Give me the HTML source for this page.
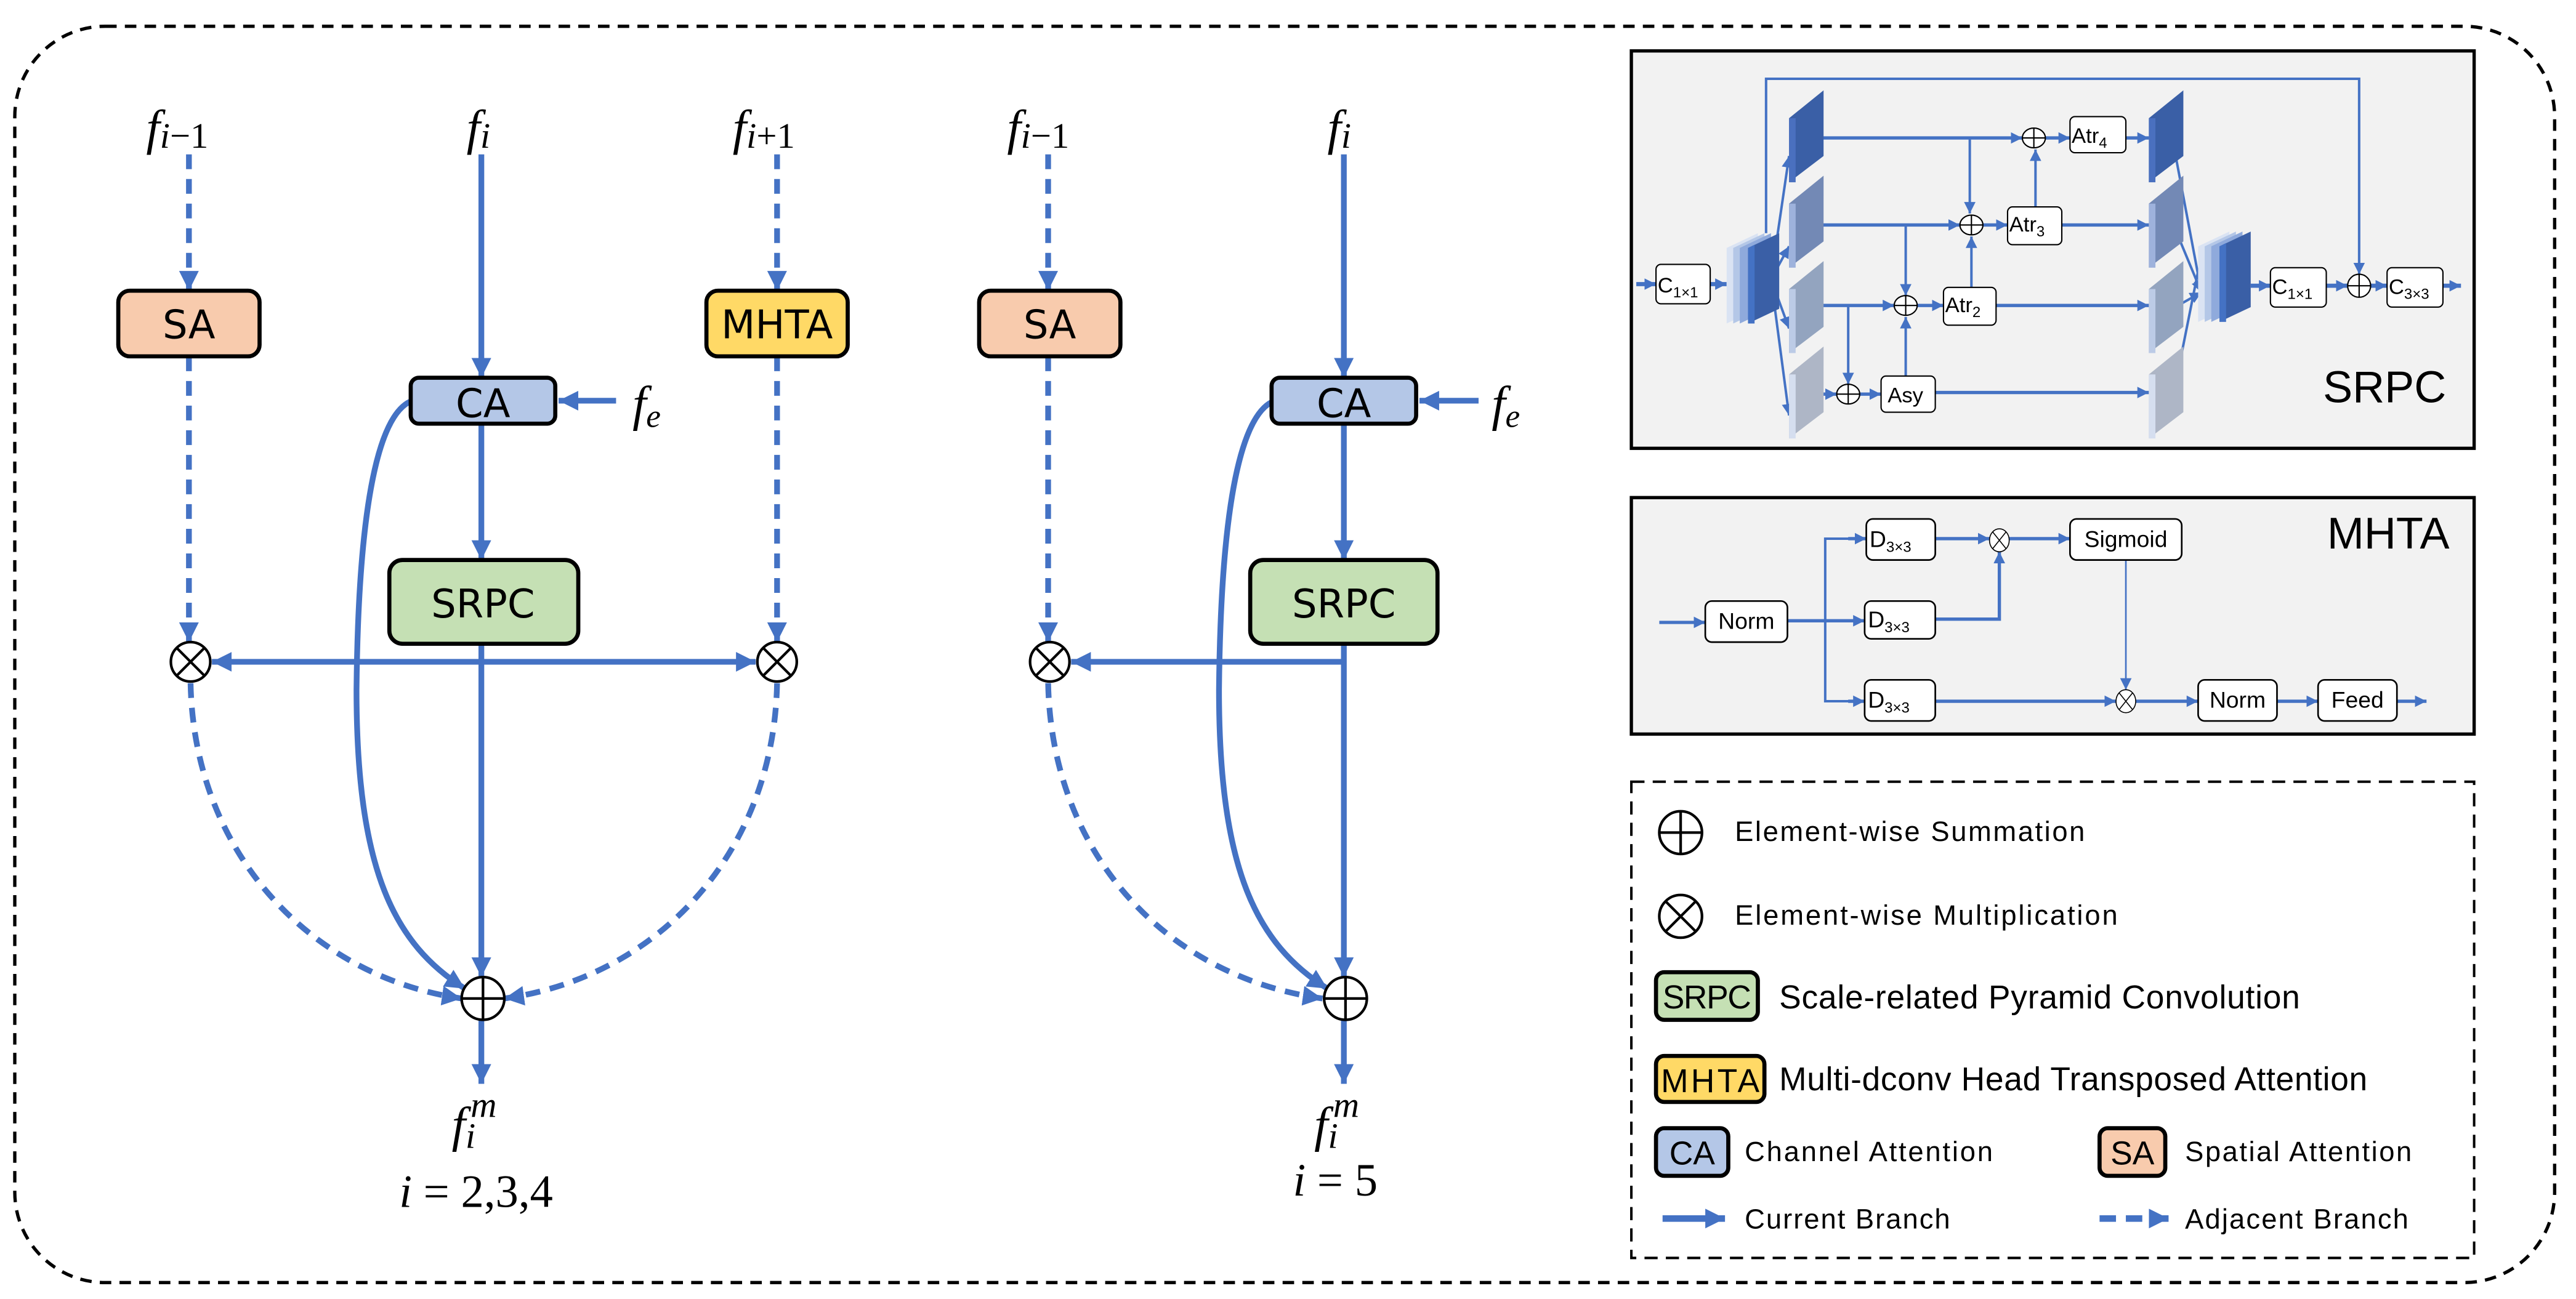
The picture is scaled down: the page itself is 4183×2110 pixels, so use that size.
<!DOCTYPE html>
<html><head><meta charset="utf-8"><style>
html,body{margin:0;padding:0;background:#fff;}
svg{display:block;}
.b{font-family:"DejaVu Sans","Liberation Sans",sans-serif;}
.m{font-family:"Liberation Serif","DejaVu Serif",serif;font-style:italic;}
.c{font-family:"Liberation Sans Narrow","Liberation Sans",sans-serif;}
</style></head><body>
<svg width="4183" height="2110" viewBox="0 0 1568 791" preserveAspectRatio="none" xmlns="http://www.w3.org/2000/svg">
<defs>
<marker id="A" markerUnits="userSpaceOnUse" markerWidth="14" markerHeight="14" refX="12" refY="6" orient="auto"><path d="M0,0 L12,6 L0,12 z" fill="#4472C4"/></marker>
<marker id="As" markerUnits="userSpaceOnUse" markerWidth="8" markerHeight="8" refX="7" refY="3.5" orient="auto"><path d="M0,0 L7,3.5 L0,7 z" fill="#4472C4"/></marker>
</defs>
<rect x="0" y="0" width="1568" height="791" fill="#fff"/>
<rect x="9" y="16" width="1546" height="765" rx="55" ry="55" fill="none" stroke="#000" stroke-width="2" stroke-dasharray="7 5"/>

<!-- ===== LEFT DIAGRAM ===== -->
<g fill="none" stroke="#4472C4" stroke-width="3.5">
<line x1="115" y1="94" x2="115" y2="177" stroke-dasharray="9 6" marker-end="url(#A)"/>
<line x1="293" y1="94" x2="293" y2="230" marker-end="url(#A)"/>
<line x1="473" y1="94" x2="473" y2="177" stroke-dasharray="9 6" marker-end="url(#A)"/>
<line x1="115" y1="217" x2="115" y2="391" stroke-dasharray="9 6" marker-end="url(#A)"/>
<line x1="473" y1="217" x2="473" y2="391" stroke-dasharray="9 6" marker-end="url(#A)"/>
<line x1="375" y1="244" x2="340" y2="244" marker-end="url(#A)"/>
<line x1="293" y1="258" x2="293" y2="341" marker-end="url(#A)"/>
<line x1="293" y1="392" x2="293" y2="595" marker-end="url(#A)"/>
<line x1="293" y1="403" x2="129" y2="403" marker-end="url(#A)"/>
<line x1="293" y1="403" x2="460" y2="403" marker-end="url(#A)"/>
<line x1="293" y1="621" x2="293" y2="660" marker-end="url(#A)"/>
<path d="M116,416 C118,520 190,595 281,608" stroke-dasharray="9 6" marker-end="url(#A)"/>
<path d="M473,416 C471,520 400,595 307,608" stroke-dasharray="9 6" marker-end="url(#A)"/>
<path d="M251,244 C228,252 218,320 217,420 C217,530 240,575 283,602" marker-end="url(#A)"/>
</g>
<g stroke="#000" stroke-width="2.5">
<rect x="72" y="177" width="86" height="40" rx="7" fill="#F8CBAD"/>
<rect x="430" y="177" width="86" height="40" rx="7" fill="#FFD966"/>
<rect x="250" y="230" width="88" height="28" rx="5" fill="#B4C7E7"/>
<rect x="237" y="341" width="115" height="51" rx="8" fill="#C5E0B4"/>
</g>
<g class="b" font-size="24" text-anchor="middle" fill="#000">
<text x="115" y="206">SA</text><text x="473" y="206">MHTA</text>
<text x="294" y="254">CA</text><text x="294" y="376">SRPC</text>
</g>
<g stroke="#000" stroke-width="1.6" fill="#fff">
<ellipse cx="116" cy="403" rx="12" ry="12"/><path d="M108,395 L124,411 M124,395 L108,411"/>
<ellipse cx="473" cy="403" rx="12" ry="12"/><path d="M465,395 L481,411 M481,395 L465,411"/>
<ellipse cx="294" cy="608" rx="13" ry="13"/><path d="M281,608 H307 M294,595 V621"/>
</g>
<g class="m" font-size="30" fill="#000">
<text x="89" y="88">f<tspan font-size="22" dy="2">i</tspan><tspan font-style="normal" font-size="22">−1</tspan></text>
<text x="284" y="88">f<tspan font-size="22" dy="2">i</tspan></text>
<text x="446" y="88">f<tspan font-size="22" dy="2">i</tspan><tspan font-style="normal" font-size="22">+1</tspan></text>
<text x="385" y="256">f<tspan font-size="20" dy="4">e</tspan></text>
<text x="275" y="695">f<tspan font-size="22" dy="4">i</tspan><tspan font-size="22" dx="-3" dy="-19">m</tspan></text>
<text x="243" y="735" font-size="28">i <tspan font-style="normal">= 2,3,4</tspan></text>
</g>

<!-- ===== MIDDLE DIAGRAM ===== -->
<g fill="none" stroke="#4472C4" stroke-width="3.5">
<line x1="638" y1="94" x2="638" y2="177" stroke-dasharray="9 6" marker-end="url(#A)"/>
<line x1="818" y1="94" x2="818" y2="230" marker-end="url(#A)"/>
<line x1="638" y1="217" x2="638" y2="391" stroke-dasharray="9 6" marker-end="url(#A)"/>
<line x1="900" y1="244" x2="864" y2="244" marker-end="url(#A)"/>
<line x1="818" y1="258" x2="818" y2="341" marker-end="url(#A)"/>
<line x1="818" y1="392" x2="818" y2="595" marker-end="url(#A)"/>
<line x1="818" y1="403" x2="652" y2="403" marker-end="url(#A)"/>
<line x1="818" y1="621" x2="818" y2="660" marker-end="url(#A)"/>
<path d="M638,416 C640,520 710,595 805,608" stroke-dasharray="9 6" marker-end="url(#A)"/>
<path d="M776,244 C753,252 743,320 742,420 C742,530 765,575 808,602" marker-end="url(#A)"/>
</g>
<g stroke="#000" stroke-width="2.5">
<rect x="596" y="177" width="86" height="40" rx="7" fill="#F8CBAD"/>
<rect x="774" y="230" width="88" height="28" rx="5" fill="#B4C7E7"/>
<rect x="761" y="341" width="114" height="51" rx="8" fill="#C5E0B4"/>
</g>
<g class="b" font-size="24" text-anchor="middle" fill="#000">
<text x="639" y="206">SA</text><text x="818" y="254">CA</text><text x="818" y="376">SRPC</text>
</g>
<g stroke="#000" stroke-width="1.6" fill="#fff">
<ellipse cx="639" cy="403" rx="12" ry="12"/><path d="M631,395 L647,411 M647,395 L631,411"/>
<ellipse cx="819" cy="608" rx="13" ry="13"/><path d="M806,608 H832 M819,595 V621"/>
</g>
<g class="m" font-size="30" fill="#000">
<text x="613" y="88">f<tspan font-size="22" dy="2">i</tspan><tspan font-style="normal" font-size="22">−1</tspan></text>
<text x="808" y="88">f<tspan font-size="22" dy="2">i</tspan></text>
<text x="908" y="256">f<tspan font-size="20" dy="4">e</tspan></text>
<text x="800" y="695">f<tspan font-size="22" dy="4">i</tspan><tspan font-size="22" dx="-3" dy="-19">m</tspan></text>
<text x="787" y="728" font-size="28">i <tspan font-style="normal">= 5</tspan></text>
</g>

<!-- ===== SRPC PANEL ===== -->
<rect x="993" y="31" width="513" height="242" fill="#F2F2F2" stroke="#000" stroke-width="2"/>
<g fill="none" stroke="#4472C4" stroke-width="1.5">
<polyline points="1075,142 1075,48 1436,48 1436,167" marker-end="url(#As)"/>
<line x1="996" y1="173" x2="1008" y2="173" stroke-width="2.5" marker-end="url(#As)"/>
<line x1="1041" y1="173" x2="1051" y2="173" stroke-width="2.5" marker-end="url(#As)"/>
<line x1="1078" y1="170" x2="1089" y2="95" marker-end="url(#As)"/>
<line x1="1078" y1="170" x2="1089" y2="150" marker-end="url(#As)"/>
<line x1="1078" y1="170" x2="1089" y2="200" marker-end="url(#As)"/>
<line x1="1078" y1="170" x2="1089" y2="253" marker-end="url(#As)"/>
<line x1="1104" y1="84" x2="1231" y2="84" stroke-width="2" marker-end="url(#As)"/>
<line x1="1245" y1="84" x2="1260" y2="84" stroke-width="2" marker-end="url(#As)"/>
<line x1="1294" y1="84" x2="1308" y2="84" stroke-width="2" marker-end="url(#As)"/>
<line x1="1199" y1="84" x2="1199" y2="130" marker-end="url(#As)"/>
<line x1="1239" y1="126" x2="1239" y2="91" marker-end="url(#As)"/>
<line x1="1104" y1="137" x2="1193" y2="137" stroke-width="2" marker-end="url(#As)"/>
<line x1="1207" y1="137" x2="1222" y2="137" stroke-width="2" marker-end="url(#As)"/>
<line x1="1255" y1="137" x2="1308" y2="137" stroke-width="2" marker-end="url(#As)"/>
<line x1="1160" y1="137" x2="1160" y2="180" marker-end="url(#As)"/>
<line x1="1200" y1="175" x2="1200" y2="144" marker-end="url(#As)"/>
<line x1="1104" y1="186" x2="1153" y2="186" stroke-width="2" marker-end="url(#As)"/>
<line x1="1167" y1="186" x2="1183" y2="186" stroke-width="2" marker-end="url(#As)"/>
<line x1="1215" y1="186" x2="1308" y2="186" stroke-width="2" marker-end="url(#As)"/>
<line x1="1125" y1="186" x2="1125" y2="234" marker-end="url(#As)"/>
<line x1="1160" y1="229" x2="1160" y2="193" marker-end="url(#As)"/>
<line x1="1104" y1="240" x2="1118" y2="240" stroke-width="2" marker-end="url(#As)"/>
<line x1="1132" y1="240" x2="1145" y2="240" stroke-width="2" marker-end="url(#As)"/>
<line x1="1178" y1="239" x2="1308" y2="239" stroke-width="2" marker-end="url(#As)"/>
<line x1="1323" y1="88" x2="1340" y2="178" marker-end="url(#As)"/>
<line x1="1323" y1="137" x2="1340" y2="178" marker-end="url(#As)"/>
<line x1="1324" y1="187" x2="1340" y2="178" marker-end="url(#As)"/>
<line x1="1323" y1="240" x2="1338" y2="165"/>
<line x1="1370" y1="174" x2="1382" y2="174" stroke-width="2.5" marker-end="url(#As)"/>
<line x1="1416" y1="174" x2="1429" y2="174" stroke-width="2.5" marker-end="url(#As)"/>
<line x1="1443" y1="174" x2="1453" y2="174" stroke-width="2.5" marker-end="url(#As)"/>
<line x1="1487" y1="174" x2="1498" y2="174" stroke-width="2.5" marker-end="url(#As)"/>
</g>
<g>
<polygon points="1051,151 1070,142 1070,188 1051,197" fill="#DAE3F3"/>
<polygon points="1055,151 1074,142 1074,188 1055,197" fill="#B4C7E7"/>
<polygon points="1059,151 1078,142 1078,188 1059,197" fill="#8FAADC"/>
<polygon points="1064,151 1083,142 1083,188 1064,197" fill="#3A5FA6"/>
<polygon points="1064,151 1068,149 1068,197 1064,197" fill="#4472C4"/>
<polygon points="1338,150 1357,141 1357,187 1338,196" fill="#DAE3F3"/>
<polygon points="1342,150 1361,141 1361,187 1342,196" fill="#B4C7E7"/>
<polygon points="1346,150 1365,141 1365,187 1346,196" fill="#8FAADC"/>
<polygon points="1351,150 1370,141 1370,187 1351,196" fill="#3A5FA6"/>
<polygon points="1351,150 1355,148 1355,196 1351,196" fill="#4472C4"/>
<polygon points="1089,72 1110,55 1110,95 1089,111" fill="#3A5FA6"/>
<rect x="1089" y="72" width="4" height="39" fill="#4A70BF"/>
<polygon points="1089,124 1110,107 1110,147 1089,163" fill="#7389B5"/>
<rect x="1089" y="124" width="4" height="39" fill="#9EB2DC"/>
<polygon points="1089,176 1110,159 1110,199 1089,215" fill="#93A4BF"/>
<rect x="1089" y="176" width="4" height="39" fill="#BCCBE6"/>
<polygon points="1089,228 1110,211 1110,251 1089,267" fill="#AEB6C6"/>
<rect x="1089" y="228" width="4" height="39" fill="#D5DEEF"/>
<polygon points="1308,72 1329,55 1329,95 1308,111" fill="#3A5FA6"/>
<rect x="1308" y="72" width="4" height="39" fill="#4A70BF"/>
<polygon points="1308,124 1329,107 1329,147 1308,163" fill="#7389B5"/>
<rect x="1308" y="124" width="4" height="39" fill="#9EB2DC"/>
<polygon points="1308,176 1329,159 1329,199 1308,215" fill="#93A4BF"/>
<rect x="1308" y="176" width="4" height="39" fill="#BCCBE6"/>
<polygon points="1308,228 1329,211 1329,251 1308,267" fill="#AEB6C6"/>
<rect x="1308" y="228" width="4" height="39" fill="#D5DEEF"/>
</g>
<g fill="#fff" stroke="#000" stroke-width="0.8">
<rect x="1008" y="161" width="33" height="24" rx="3"/>
<rect x="1260" y="71" width="34" height="22" rx="3"/>
<rect x="1222" y="126" width="33" height="23" rx="3"/>
<rect x="1183" y="175" width="32" height="23" rx="3"/>
<rect x="1145" y="229" width="33" height="22" rx="3"/>
<rect x="1382" y="163" width="34" height="24" rx="3"/>
<rect x="1453" y="163" width="34" height="24" rx="3"/>
<ellipse cx="1238" cy="84" rx="7" ry="6"/><path d="M1231,84 H1245 M1238,78 V90"/>
<ellipse cx="1200" cy="137" rx="7" ry="6"/><path d="M1193,137 H1207 M1200,131 V143"/>
<ellipse cx="1160" cy="186" rx="7" ry="6"/><path d="M1153,186 H1167 M1160,180 V192"/>
<ellipse cx="1125" cy="240" rx="7" ry="6"/><path d="M1118,240 H1132 M1125,234 V246"/>
<ellipse cx="1436" cy="174" rx="7" ry="7"/><path d="M1429,174 H1443 M1436,167 V181"/>
</g>
<g class="c" font-size="13" fill="#000">
<text x="1009" y="178">C<tspan font-size="9" dy="3">1×1</tspan></text>
<text x="1261" y="87">Atr<tspan font-size="9" dy="3">4</tspan></text>
<text x="1223" y="141">Atr<tspan font-size="9" dy="3">3</tspan></text>
<text x="1184" y="190">Atr<tspan font-size="9" dy="3">2</tspan></text>
<text x="1149" y="245">Asy</text>
<text x="1383" y="179">C<tspan font-size="9" dy="3">1×1</tspan></text>
<text x="1454" y="179">C<tspan font-size="9" dy="3">3×3</tspan></text>
</g>
<text x="1489" y="245" class="c" font-size="27" text-anchor="end">SRPC</text>

<!-- ===== MHTA PANEL ===== -->
<rect x="993" y="303" width="513" height="144" fill="#F2F2F2" stroke="#000" stroke-width="2"/>
<g fill="none" stroke="#4472C4" stroke-width="2">
<line x1="1010" y1="379" x2="1038" y2="379" marker-end="url(#As)"/>
<line x1="1088" y1="378" x2="1135" y2="378" marker-end="url(#As)"/>
<polyline points="1136,328 1111,328 1111,427 1135,427" stroke-width="1.5"/>
<line x1="1125" y1="328" x2="1136" y2="328" marker-end="url(#As)"/>
<line x1="1125" y1="427" x2="1135" y2="427" marker-end="url(#As)"/>
<line x1="1178" y1="328" x2="1211" y2="328" marker-end="url(#As)"/>
<line x1="1223" y1="328" x2="1260" y2="328" marker-end="url(#As)"/>
<polyline points="1178,377 1217,377 1217,336" marker-end="url(#As)"/>
<line x1="1294" y1="341" x2="1294" y2="420" stroke-width="1" marker-end="url(#As)"/>
<line x1="1178" y1="427" x2="1288" y2="427" marker-end="url(#As)"/>
<line x1="1300" y1="427" x2="1338" y2="427" marker-end="url(#As)"/>
<line x1="1386" y1="427" x2="1411" y2="427" marker-end="url(#As)"/>
<line x1="1459" y1="427" x2="1477" y2="427" marker-end="url(#As)"/>
</g>
<g fill="#fff" stroke="#000" stroke-width="1">
<rect x="1038" y="366" width="50" height="25" rx="4"/>
<rect x="1136" y="316" width="42" height="25" rx="4"/>
<rect x="1135" y="366" width="43" height="23" rx="4"/>
<rect x="1135" y="414" width="43" height="25" rx="4"/>
<rect x="1260" y="316" width="68" height="25" rx="4"/>
<rect x="1338" y="414" width="48" height="25" rx="4"/>
<rect x="1411" y="414" width="48" height="25" rx="4"/>
</g>
<g fill="#fff" stroke="#000" stroke-width="0.6">
<ellipse cx="1217" cy="329" rx="6" ry="7"/><path d="M1213,324 L1221,334 M1221,324 L1213,334"/>
<ellipse cx="1294" cy="427" rx="6" ry="7"/><path d="M1290,422 L1298,432 M1298,422 L1290,432"/>
</g>
<g class="c" font-size="14" fill="#000">
<text x="1063" y="383" text-anchor="middle">Norm</text>
<text x="1138" y="333">D<tspan font-size="9" dy="3">3×3</tspan></text>
<text x="1137" y="382">D<tspan font-size="9" dy="3">3×3</tspan></text>
<text x="1137" y="431">D<tspan font-size="9" dy="3">3×3</tspan></text>
<text x="1294" y="333" text-anchor="middle">Sigmoid</text>
<text x="1362" y="431" text-anchor="middle">Norm</text>
<text x="1435" y="431" text-anchor="middle">Feed</text>
</g>
<text x="1491" y="334" class="c" font-size="27" text-anchor="end">MHTA</text>

<!-- ===== LEGEND ===== -->
<rect x="993" y="476" width="513" height="290" fill="none" stroke="#000" stroke-width="1.5" stroke-dasharray="8 5"/>
<g stroke="#000" stroke-width="1.6" fill="#fff">
<circle cx="1023" cy="507" r="13"/><path d="M1010,507 H1036 M1023,494 V520"/>
<circle cx="1023" cy="558" r="13"/><path d="M1014,549 L1032,567 M1032,549 L1014,567"/>
</g>
<g stroke="#000" stroke-width="2.5">
<rect x="1008" y="592" width="62" height="29" rx="5" fill="#C5E0B4"/>
<rect x="1008" y="643" width="66" height="28" rx="5" fill="#FFD966"/>
<rect x="1008" y="687" width="44" height="29" rx="5" fill="#B4C7E7"/>
<rect x="1278" y="687" width="40" height="29" rx="5" fill="#F8CBAD"/>
</g>
<g class="c" font-size="20" fill="#000">
<text x="1039" y="614" text-anchor="middle" textLength="54">SRPC</text>
<text x="1041" y="665" text-anchor="middle" textLength="60">MHTA</text>
<text x="1030" y="709" text-anchor="middle">CA</text>
<text x="1298" y="709" text-anchor="middle">SA</text>
<text x="1083" y="614" textLength="317">Scale-related Pyramid Convolution</text>
<text x="1083" y="664" textLength="358">Multi-dconv Head Transposed Attention</text>
</g>
<g class="c" font-size="17" fill="#000">
<text x="1056" y="512" textLength="213">Element-wise Summation</text>
<text x="1056" y="563" textLength="233">Element-wise Multiplication</text>
<text x="1062" y="707" textLength="151">Channel Attention</text>
<text x="1330" y="707" textLength="138">Spatial Attention</text>
<text x="1062" y="748" textLength="125">Current Branch</text>
<text x="1330" y="748" textLength="136">Adjacent Branch</text>
</g>
<g stroke="#4472C4" stroke-width="4" fill="none">
<line x1="1012" y1="742" x2="1050" y2="742" marker-end="url(#A)"/>
<line x1="1278" y1="742" x2="1320" y2="742" stroke-dasharray="10 6" marker-end="url(#A)"/>
</g>
</svg>
</body></html>
